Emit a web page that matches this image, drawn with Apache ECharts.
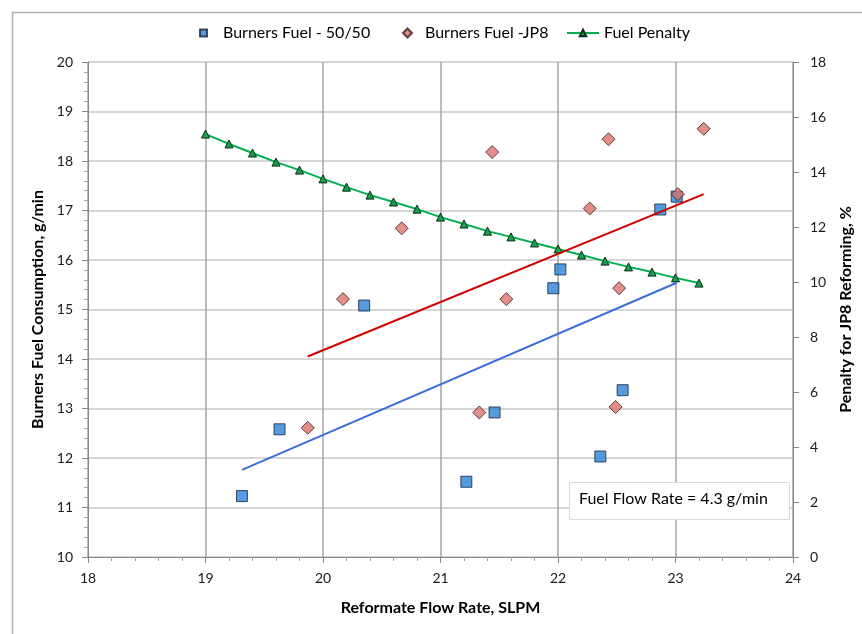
<!DOCTYPE html>
<html>
<head>
<meta charset="utf-8">
<script src="https://cdn.jsdelivr.net/npm/echarts@6/dist/echarts.min.js"></script>
<style>
html,body{margin:0;padding:0;background:#fff;}
#chart{width:862px;height:634px;}
</style>
</head>
<body>
<div id="chart"></div>
<script>
// ---- Data ----
const fuel5050X = [19.31, 19.63, 20.35, 21.22, 21.46, 21.96, 22.02, 22.36, 22.55, 22.87, 23.01];
const fuel5050Y = [11.23, 12.58, 15.08, 11.52, 12.92, 15.43, 15.81, 12.03, 13.37, 17.02, 17.28];

const fuelJP8X = [19.87, 20.17, 20.67, 21.33, 21.44, 21.56, 22.27, 22.43, 22.49, 22.52, 23.02, 23.24];
const fuelJP8Y = [12.61, 15.21, 16.64, 12.92, 18.18, 15.21, 17.04, 18.44, 13.03, 15.43, 17.33, 18.65];

const penaltyX = [19.0, 19.2, 19.4, 19.6, 19.8, 20.0, 20.2, 20.4, 20.6, 20.8, 21.0,
                  21.2, 21.4, 21.6, 21.8, 22.0, 22.2, 22.4, 22.6, 22.8, 23.0, 23.2];
const penaltyY = [15.38, 15.02, 14.69, 14.36, 14.07, 13.75, 13.45, 13.16, 12.91, 12.65, 12.36,
                  12.11, 11.85, 11.64, 11.42, 11.20, 10.98, 10.76, 10.55, 10.36, 10.15, 9.96];

// linear trend lines (end points)
const trend5050X = [19.31, 23.01];
const trend5050Y = [11.76, 15.54];
const trendJP8X = [19.87, 23.24];
const trendJP8Y = [14.05, 17.33];

const xTicks = [18, 19, 20, 21, 22, 23, 24];
const leftTicks = [10, 11, 12, 13, 14, 15, 16, 17, 18, 19, 20];
const rightTicks = [0, 2, 4, 6, 8, 10, 12, 14, 16, 18];

const names = ['Burners Fuel - 50/50', 'Burners Fuel -JP8', 'Fuel Penalty'];
const noteText = 'Fuel Flow Rate = 4.3 g/min';

const pairs = (xs, ys) => xs.map((x, i) => [x, ys[i]]);

const FONT = 'Lato, "Open Sans", sans-serif';
const chart = echarts.init(document.getElementById('chart'), null, {renderer: 'canvas'});

const legendText = (pad) => ({fontFamily: FONT, fontSize: 16, color: '#000', padding: [0, 0, 0, pad]});
const legendBase = {top: 25, padding: 0, orient: 'horizontal', selectedMode: false};

chart.setOption({
  animation: false,
  backgroundColor: '#fff',
  grid: {left: 88, right: 69, top: 62, bottom: 77, containLabel: false},
  legend: [
    Object.assign({}, legendBase, {left: 199, itemWidth: 7, itemHeight: 7,
      data: [{name: names[0], icon: 'rect'}], textStyle: legendText(11)}),
    Object.assign({}, legendBase, {left: 402, itemWidth: 9, itemHeight: 9,
      data: [{name: names[1], icon: 'diamond'}], textStyle: legendText(8)}),
    Object.assign({}, legendBase, {left: 566, itemWidth: 32, itemHeight: 8,
      data: [{name: names[2]}], textStyle: legendText(0)})
  ],
  xAxis: {
    type: 'value', min: xTicks[0], max: xTicks[xTicks.length - 1], interval: 1,
    name: 'Reformate Flow Rate, SLPM', nameLocation: 'middle', nameGap: 43,
    nameTextStyle: {fontFamily: FONT, fontSize: 16, fontWeight: 'bold', color: '#000'},
    axisLine: {show: true, lineStyle: {color: '#868686', width: 1}},
    axisTick: {show: true, length: 6, lineStyle: {color: '#868686'}},
    minorTick: {show: true, splitNumber: 5, length: 4, lineStyle: {color: '#a0a0a0'}},
    axisLabel: {fontFamily: FONT, fontSize: 14, color: '#1a1a1a', margin: 14},
    splitLine: {show: true, lineStyle: {color: '#a6a6a6', width: 1.5}}
  },
  yAxis: [
    {
      type: 'value', min: leftTicks[0], max: leftTicks[leftTicks.length - 1], interval: 1,
      position: 'left',
      name: 'Burners Fuel Consumption, g/min', nameLocation: 'middle', nameGap: 40,
      nameTextStyle: {fontFamily: FONT, fontSize: 16, fontWeight: 'bold', color: '#000'},
      axisLine: {show: true, lineStyle: {color: '#868686', width: 1}},
      axisTick: {show: true, length: 6, lineStyle: {color: '#868686'}},
      minorTick: {show: true, splitNumber: 5, length: 4, lineStyle: {color: '#a0a0a0'}},
      axisLabel: {fontFamily: FONT, fontSize: 14, color: '#1a1a1a', margin: 15},
      splitLine: {show: true, lineStyle: {color: '#c8c8c8', width: 1.5}}
    },
    {
      type: 'value', min: rightTicks[0], max: rightTicks[rightTicks.length - 1], interval: 2,
      position: 'right',
      name: 'Penalty for JP8 Reforming, %', nameLocation: 'middle', nameGap: 45, nameRotate: 90,
      nameTextStyle: {fontFamily: FONT, fontSize: 16, fontWeight: 'bold', color: '#000'},
      axisLine: {show: true, lineStyle: {color: '#868686', width: 1}},
      axisTick: {show: true, length: 6, lineStyle: {color: '#868686'}},
      axisLabel: {fontFamily: FONT, fontSize: 14, color: '#1a1a1a', margin: 17},
      splitLine: {show: false}
    }
  ],
  graphic: [
    {type: 'rect', left: 10, top: 10, z: -10, silent: true,
     shape: {width: 900, height: 700},
     style: {fill: 'none', stroke: '#b0b0b0', lineWidth: 1.5}},
    {type: 'rect', left: 569, top: 482, z: 100, silent: true,
     shape: {width: 220, height: 37},
     style: {fill: '#ffffff', stroke: '#d9d9d9', lineWidth: 1}},
    {type: 'text', left: 579, top: 491, z: 101, silent: true,
     style: {text: noteText, fontFamily: FONT, fontSize: 16, fill: '#000'}}
  ],
  series: [
    {
      name: names[0], type: 'scatter', xAxisIndex: 0, yAxisIndex: 0,
      symbol: 'rect', symbolSize: 11, z: 3,
      itemStyle: {color: '#2a82d4', borderColor: '#17243f', borderWidth: 1},
      data: pairs(fuel5050X, fuel5050Y)
    },
    {
      name: names[1], type: 'scatter', xAxisIndex: 0, yAxisIndex: 0,
      symbol: 'diamond', symbolSize: 13, z: 3,
      itemStyle: {color: '#dc736c', borderColor: '#3a1d1d', borderWidth: 1},
      data: pairs(fuelJP8X, fuelJP8Y)
    },
    {
      name: names[2], type: 'line', xAxisIndex: 0, yAxisIndex: 1,
      symbol: 'triangle', symbolSize: 8, showAllSymbol: true, z: 4,
      lineStyle: {color: '#00b050', width: 2},
      itemStyle: {color: '#14a04c', borderColor: '#0a2a14', borderWidth: 1},
      data: pairs(penaltyX, penaltyY)
    },
    {
      name: 'trend5050', type: 'line', xAxisIndex: 0, yAxisIndex: 0,
      symbol: 'none', z: 5, silent: true,
      lineStyle: {color: '#3a6fdc', width: 2},
      data: pairs(trend5050X, trend5050Y)
    },
    {
      name: 'trendJP8', type: 'line', xAxisIndex: 0, yAxisIndex: 0,
      symbol: 'none', z: 5, silent: true,
      lineStyle: {color: '#d00000', width: 2},
      data: pairs(trendJP8X, trendJP8Y)
    }
  ]
});
</script>
</body>
</html>
